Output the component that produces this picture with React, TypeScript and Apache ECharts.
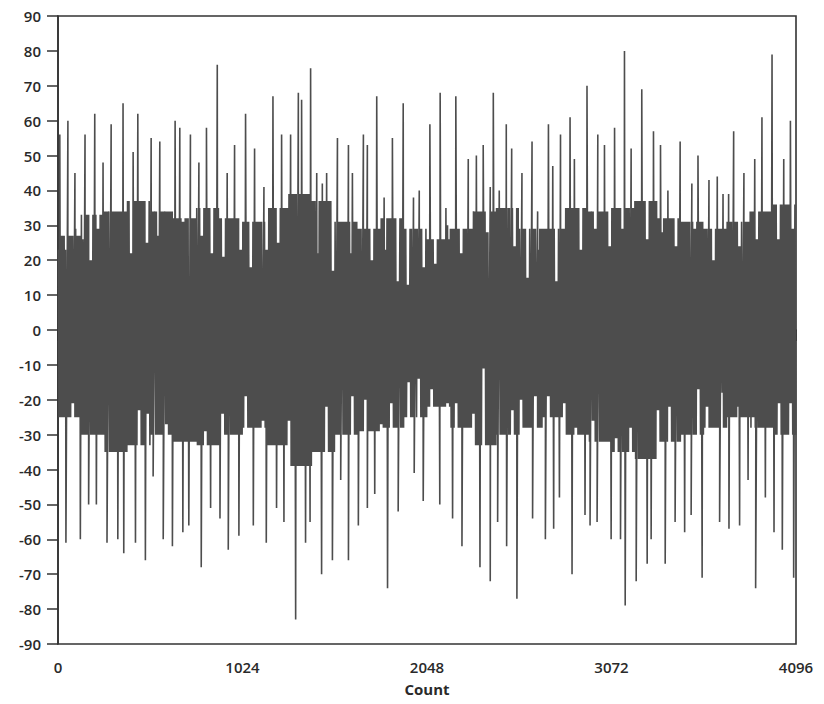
import React, { useEffect, useRef } from "react";
import * as echarts from "echarts";

// Prominent upward spikes: [count, value]
const topSpikes: [number, number][] = [
  [10, 56], [55, 60], [94, 45], [150, 56], [204, 62], [250, 48], [295, 59], [361, 65], [417, 51], [443, 62],
  [517, 55], [565, 54], [650, 60], [676, 58], [735, 56], [782, 48], [824, 58], [884, 76], [939, 45], [980, 53],
  [1041, 62], [1091, 52], [1143, 41], [1193, 67], [1241, 56], [1291, 56], [1334, 68], [1352, 66], [1402, 75],
  [1436, 45], [1467, 42], [1491, 45], [1551, 55], [1612, 53], [1634, 45], [1695, 56], [1717, 53], [1769, 67],
  [1810, 38], [1856, 55], [1916, 65], [1973, 38], [2005, 40],
  [2064, 59], [2121, 68], [2153, 35], [2208, 67], [2277, 49], [2322, 50], [2360, 53], [2399, 41], [2416, 68],
  [2449, 40], [2488, 59], [2518, 52], [2575, 45], [2631, 54], [2662, 34], [2722, 59], [2746, 47], [2789, 56],
  [2842, 61], [2866, 49], [2936, 70], [2996, 56], [3033, 53], [3089, 58],
  [3144, 80], [3181, 52], [3240, 69], [3305, 57], [3344, 53], [3385, 40], [3453, 54], [3518, 42], [3552, 50],
  [3613, 43], [3659, 44], [3691, 39], [3722, 39], [3750, 57], [3807, 45], [3867, 49], [3907, 61], [3963, 79],
  [4028, 49], [4065, 60],
];

// Prominent downward spikes: [count, value]
const bottomSpikes: [number, number][] = [
  [44, -61], [124, -60], [170, -50], [213, -50], [272, -61], [332, -60], [365, -64], [430, -61], [485, -66],
  [528, -42], [584, -60], [635, -62], [693, -58], [726, -56], [795, -68], [847, -51], [899, -54], [945, -63],
  [1004, -59], [1084, -56], [1156, -61], [1213, -51], [1254, -55], [1319, -83], [1374, -61], [1399, -55],
  [1463, -70], [1523, -66], [1569, -43], [1612, -66], [1667, -56], [1717, -51], [1758, -47], [1829, -74],
  [1888, -52], [1977, -41], [2027, -49],
  [2119, -50], [2190, -54], [2242, -62], [2342, -68], [2399, -72], [2440, -55], [2490, -62], [2547, -77],
  [2634, -54], [2705, -60], [2751, -57], [2783, -48], [2853, -70], [2925, -53], [2953, -56], [2992, -55],
  [3070, -60], [3122, -60],
  [3148, -79], [3209, -72], [3270, -67], [3292, -60], [3370, -67], [3425, -55], [3478, -58], [3514, -53],
  [3575, -71], [3672, -55], [3724, -57], [3783, -56], [3830, -43], [3872, -74], [3926, -48], [3974, -58],
  [4020, -63], [4083, -71],
];

// Local maxima that stay low inside the upper half (white gaps reaching into the band): [count, value]
const upperDips: [number, number][] = [
  [6, 23], [41, 23], [93, 29], [138, 26], [178, 20], [217, 29], [402, 22], [495, 25], [553, 27], [614, 34],
  [693, 31], [798, 27], [851, 22], [917, 21], [1010, 23], [1070, 18], [1155, 23], [1221, 25], [1432, 22],
  [1524, 17], [1630, 22], [1736, 20], [1815, 23], [1881, 14], [1941, 13], [2026, 18], [2092, 19], [2158, 30],
  [2237, 22], [2382, 28], [2528, 24], [2607, 15], [2660, 23], [2760, 14], [2897, 23], [2976, 29], [3056, 24],
  [3135, 29], [3267, 26], [3346, 28], [3425, 24], [3531, 29], [3636, 20], [3782, 24], [3874, 26], [3993, 26],
  [4072, 29],
];

// Local minima that stay high inside the lower half: [count, value]
const lowerDips: [number, number][] = [
  [72, -21], [442, -23], [495, -24], [595, -27], [812, -29], [904, -24], [1036, -19], [1128, -26], [1274, -26],
  [1485, -22], [1630, -19], [1696, -20], [1788, -27], [1846, -21], [1941, -15], [1994, -14], [2066, -17],
  [2153, -21], [2205, -21], [2298, -24], [2356, -11], [2514, -23], [2567, -20], [2646, -19], [2713, -19],
  [2805, -21], [2871, -28], [2963, -26], [3095, -31], [3174, -28], [3320, -23], [3386, -22], [3544, -17],
  [3597, -22], [3676, -18], [3768, -22], [3848, -25], [3993, -21], [4059, -21],
];

// Upper / lower edge of the dense band, every 128 counts (0..4096)
const upperEnvelope: number[] = [
  27, 33, 34, 37, 34, 32, 35, 32, 31, 35, 39, 37, 31, 29, 32, 29,
  26, 29, 34, 35, 29, 29, 35, 34, 35, 37, 32, 31, 29, 31, 34, 36, 37,
];
const lowerEnvelope: number[] = [
  -25, -30, -35, -33, -30, -32, -33, -30, -28, -33, -39, -35, -30, -29, -28, -25,
  -22, -28, -33, -30, -28, -25, -30, -32, -35, -37, -32, -30, -28, -25, -28, -30, -30,
];

const xTicks = [0, 1024, 2048, 3072, 4096];
const COUNT_MAX = 4096;
const CELL = 8;
const ENV_STEP = 128;

function buildSignal(): [number, number][] {
  const nCells = COUNT_MAX / CELL;
  const cellOf = (x: number) => Math.min(nCells - 1, Math.floor(x / CELL));
  const upVals = new Map<number, [number, number]>();
  const loVals = new Map<number, [number, number]>();
  const spikeUp = new Set<number>();
  const spikeLo = new Set<number>();
  for (const s of topSpikes) {
    const c = cellOf(s[0]);
    const prev = upVals.get(c);
    if (!prev || s[1] > prev[1]) upVals.set(c, s);
    spikeUp.add(c);
  }
  for (const s of bottomSpikes) {
    const c = cellOf(s[0]);
    const prev = loVals.get(c);
    if (!prev || s[1] < prev[1]) loVals.set(c, s);
    spikeLo.add(c);
  }
  // a dip spans two neighbouring cells so that it shows as a white gap
  for (const d of upperDips) {
    const c = cellOf(d[0]);
    for (const k of [c, c + 1]) {
      if (k < nCells && !spikeUp.has(k)) upVals.set(k, [k * CELL + 2, d[1]]);
    }
  }
  for (const d of lowerDips) {
    const c = cellOf(d[0]);
    for (const k of [c, c + 1]) {
      if (k < nCells && !spikeLo.has(k)) loVals.set(k, [k * CELL + 6, d[1]]);
    }
  }
  const out: [number, number][] = [];
  for (let c = 0; c < nCells; c++) {
    const i = Math.floor((c * CELL) / ENV_STEP);
    const up = upVals.get(c) ?? [c * CELL + 2, upperEnvelope[i]];
    const lo = loVals.get(c) ?? [c * CELL + 6, lowerEnvelope[i]];
    out.push([up[0], up[1]]);
    out.push([lo[0], lo[1]]);
  }
  return out;
}

export default function App() {
  const ref = useRef<HTMLDivElement>(null);
  useEffect(() => {
    document.body.style.margin = "0";
    if (!ref.current) return;
    const chart = echarts.init(ref.current, null, { renderer: "svg" });
    const font = "'Open Sans', 'DejaVu Sans', sans-serif";
    chart.setOption({
      animation: false,
      backgroundColor: "#ffffff",
      grid: {
        left: 58,
        right: 28,
        top: 16,
        bottom: 60,
        show: true,
        borderColor: "#333",
        borderWidth: 1.6,
        backgroundColor: "transparent",
      },
      xAxis: {
        type: "value",
        min: 0,
        max: COUNT_MAX,
        interval: 1024,
        name: "Count",
        nameLocation: "middle",
        nameGap: 37,
        nameTextStyle: { fontFamily: font, fontSize: 15, fontWeight: "bold", color: "#2a2a2a" },
        axisLine: { show: true, lineStyle: { color: "#333", width: 1.6 } },
        axisTick: { show: true, length: 11, lineStyle: { color: "#333", width: 1.5 } },
        axisLabel: {
          fontFamily: font,
          fontSize: 15,
          fontWeight: 600,
          color: "#2a2a2a",
          margin: 15,
          formatter: (v: number) => (xTicks.includes(v) ? String(v) : ""),
        },
        splitLine: { show: false },
      },
      yAxis: {
        type: "value",
        min: -90,
        max: 90,
        interval: 10,
        axisLine: { show: true, lineStyle: { color: "#333", width: 1.6 } },
        axisTick: { show: true, length: 11, lineStyle: { color: "#333", width: 1.5 } },
        axisLabel: { fontFamily: font, fontSize: 15, fontWeight: 600, color: "#2a2a2a", margin: 17 },
        splitLine: { show: false },
      },
      series: [
        {
          type: "line",
          data: buildSignal(),
          showSymbol: false,
          symbol: "none",
          lineStyle: { color: "#4d4d4d", width: 1.6 },
          clip: true,
        },
      ],
    });
    return () => chart.dispose();
  }, []);
  return <div ref={ref} style={{ width: 824, height: 704 }} />;
}
